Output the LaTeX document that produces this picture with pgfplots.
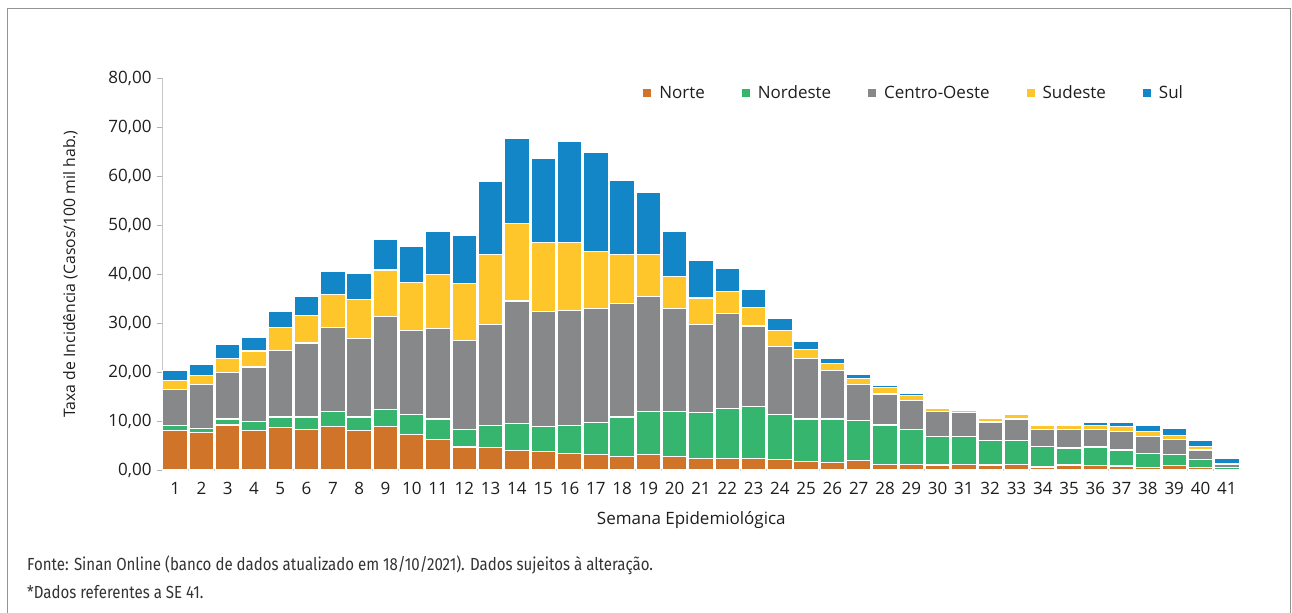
\documentclass[border=0pt]{standalone}
\usepackage{fontspec}
\setmainfont{Open Sans}
\newfontfamily\footfont[FakeStretch=0.86]{Fira Sans}
\usepackage{pgfplots}
\usepackage{pgfplotstable}
\pgfplotsset{compat=1.18}
\definecolor{cNorte}{RGB}{207,116,41}
\definecolor{cNordeste}{RGB}{54,181,111}
\definecolor{cCO}{RGB}{134,136,137}
\definecolor{cSudeste}{RGB}{254,198,42}
\definecolor{cSul}{RGB}{19,134,200}
\definecolor{txt}{RGB}{30,30,30}
\pgfplotstableread{
wk N Nd CO Sd Sul
1 8.0 1.0 7.5 1.8 2.0
2 7.6 0.8 9.1 1.8 2.2
3 9.2 1.2 9.5 2.9 2.8
4 8.0 1.9 11.1 3.3 2.8
5 8.6 2.2 13.6 4.7 3.2
6 8.3 2.5 15.1 5.7 3.9
7 8.9 3.1 17.1 6.7 4.7
8 8.0 2.8 16.1 7.9 5.3
9 8.9 3.5 18.9 9.5 6.3
10 7.3 4.1 17.1 9.8 7.3
11 6.3 4.1 18.4 11.1 8.7
12 4.7 3.5 18.3 11.5 9.8
13 4.6 4.5 20.6 14.3 14.8
14 4.0 5.5 25.0 15.8 17.4
15 3.7 5.2 23.4 14.2 17.1
16 3.4 5.7 23.5 13.9 20.6
17 3.2 6.5 23.2 11.7 20.2
18 2.7 8.1 23.1 10.1 15.2
19 3.2 8.8 23.4 8.6 12.7
20 2.7 9.3 20.9 6.6 9.2
21 2.4 9.3 18.0 5.4 7.6
22 2.4 10.2 19.3 4.6 4.7
23 2.4 10.6 16.4 3.8 3.7
24 2.1 9.3 13.8 3.3 2.5
25 1.8 8.6 12.4 1.8 1.7
26 1.6 8.8 9.9 1.5 1.0
27 2.0 8.1 7.3 1.3 0.9
28 1.2 8.0 6.3 1.3 0.5
29 1.2 7.0 6.0 1.0 0.5
30 1.0 5.9 5.1 0.5 0.2
31 1.2 5.7 4.8 0.5 0.2
32 1.0 5.1 3.7 0.8 0.2
33 1.2 4.9 4.3 0.9 0.1
34 0.6 4.2 3.4 0.8 0.2
35 1.0 3.5 3.7 0.8 0.2
36 0.9 3.8 3.5 0.9 0.7
37 0.8 3.3 3.7 1.0 0.9
38 0.5 2.9 3.4 1.0 1.2
39 0.9 2.2 3.2 0.8 1.4
40 0.5 1.7 1.9 0.7 1.2
41 0.1 0.4 0.7 0.1 1.1
}\data
\begin{document}
\begin{tikzpicture}[x=1bp,y=1bp]
\path[use as bounding box] (0,0) rectangle (1292,613);
\draw[gray!85, line width=1bp] (7.5,0) -- (7.5,604.5) -- (1290.5,604.5) -- (1290.5,0);
\begin{axis}[
  at={(162bp,143bp)}, anchor=south west,
  width=1078bp, height=392bp, scale only axis,
  xmin=0.5, xmax=41.5, ymin=0, ymax=80,
  ybar stacked, bar width=24.6bp,
  axis x line*=bottom, axis y line*=left,
  x axis line style={draw=black!18, line width=1.6bp, -},
  y axis line style={draw=black!22, line width=1bp, -},
  xtick={1,...,41}, xtick style={draw=none},
  ytick={0,10,...,80}, ytick style={draw=black!30, line width=0.8bp},
  tick align=outside, major tick length=5bp,
  /pgf/number format/assume math mode=true,
  tick label style={font=\fontsize{17bp}{19bp}\selectfont, text=txt},
  x tick label style={yshift=-4bp},
  y tick label style={xshift=-2bp, /pgf/number format/.cd, fixed, fixed zerofill, precision=2, use comma, 1000 sep={}},
  xlabel={Semana Epidemiológica},
  ylabel={Taxa de Incidência (Casos/100 mil hab.)},
  xlabel style={font=\fontsize{17bp}{19bp}\selectfont, text=txt, at={(axis description cs:0.491,0)}, anchor=center, yshift=-50bp},
  ylabel style={font=\fontsize{15.8bp}{18bp}\selectfont, text=txt, at={(axis description cs:-0.085,0.5)}, anchor=center},
  legend style={at={(0.952,0.962)}, anchor=east, draw=none, fill=none,
    legend columns=-1, font=\fontsize{17bp}{19bp}\selectfont, text=txt,
    /tikz/every even column/.append style={column sep=35bp},
    /tikz/every odd column/.append style={column sep=6bp}},
  legend image code/.code={\fill[#1,draw=none] (0bp,-4bp) rectangle (8bp,4bp);},
  clip=false,
]
\addplot[fill=cNorte, draw=white, line width=1.2bp] table[x=wk,y=N]{\data};
\addplot[fill=cNordeste, draw=white, line width=1.2bp] table[x=wk,y=Nd]{\data};
\addplot[fill=cCO, draw=white, line width=1.2bp] table[x=wk,y=CO]{\data};
\addplot[fill=cSudeste, draw=white, line width=1.2bp] table[x=wk,y=Sd]{\data};
\addplot[fill=cSul, draw=white, line width=1.2bp] table[x=wk,y=Sul]{\data};
\legend{Norte,Nordeste,Centro-Oeste,Sudeste,Sul}
\end{axis}
\node[anchor=west, inner sep=0, text=black!80, font=\footfont\fontsize{17.5bp}{19bp}\selectfont] at (27,48) {Fonte: Sinan Online (banco de dados atualizado em 18/10/2021). Dados sujeitos à alteração.};
\node[anchor=west, inner sep=0, text=black!80, font=\footfont\fontsize{17.5bp}{19bp}\selectfont] at (27,21) {*Dados referentes a SE 41.};
\end{tikzpicture}
\end{document}
